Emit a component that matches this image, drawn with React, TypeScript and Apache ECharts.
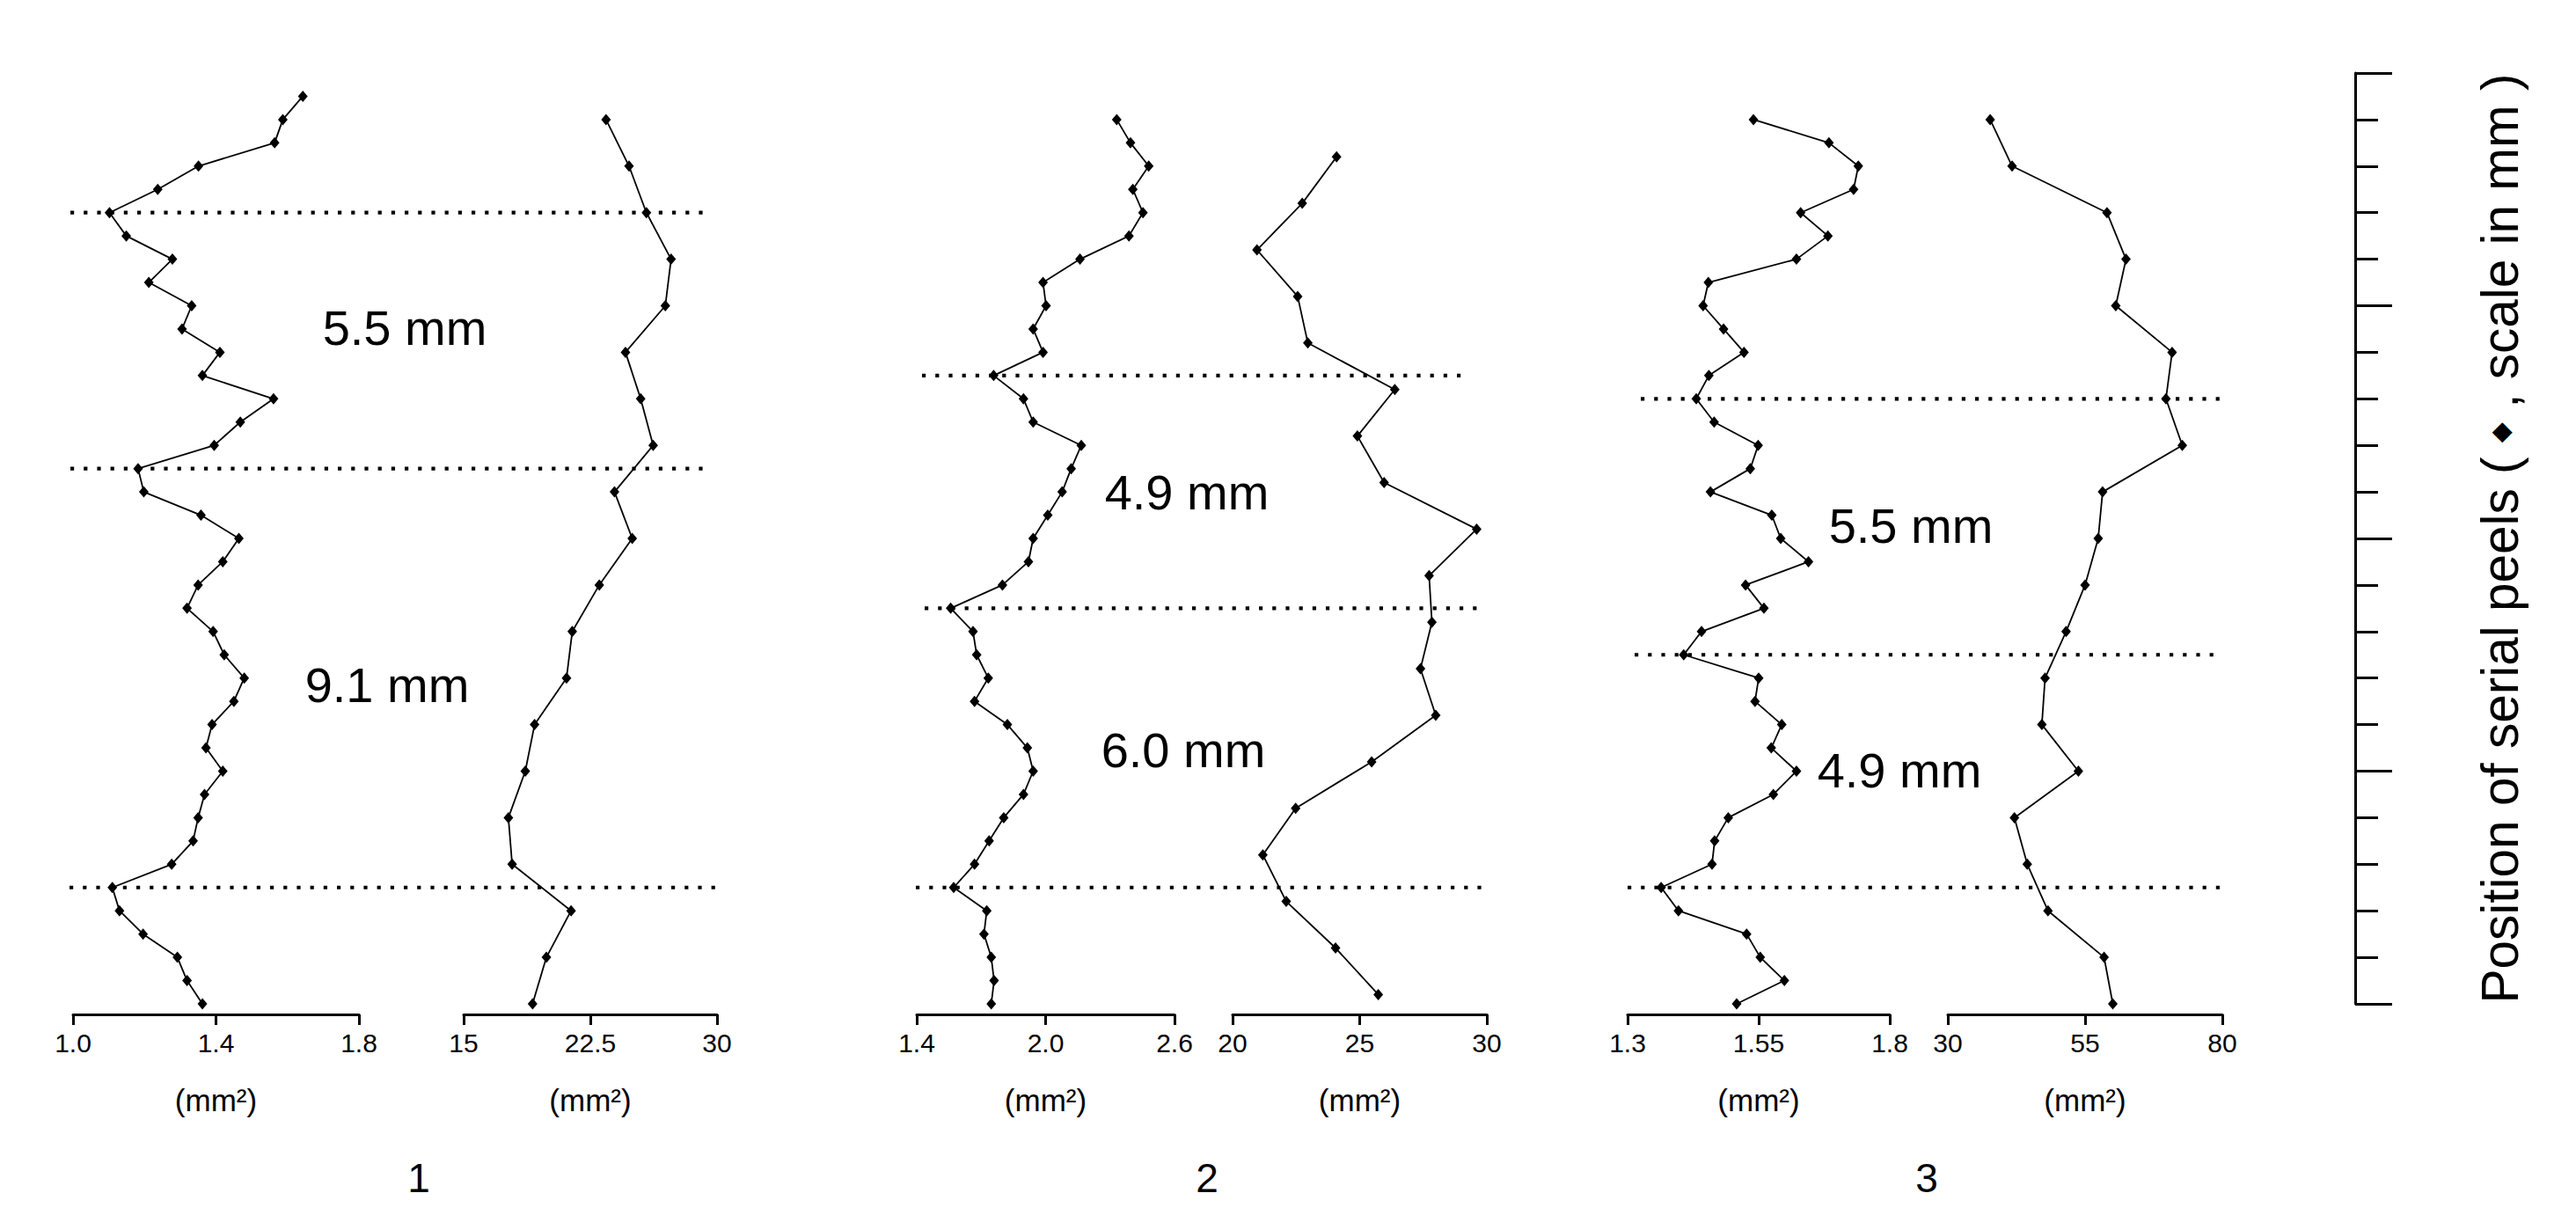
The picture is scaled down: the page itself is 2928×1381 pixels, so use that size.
import React, { useEffect, useRef } from "react";
import * as echarts from "echarts";

// ---------- DATA ----------
// positions of serial peels, in mm above the base
const p1aPos = [19.5, 19, 18.5, 18, 17.5, 17, 16.5, 16, 15.5, 15, 14.5, 14, 13.5, 13, 12.5, 12, 11.5, 11, 10.5, 10, 9.5, 9, 8.5, 8, 7.5, 7, 6.5, 6, 5.5, 5, 4.5, 4, 3.5, 3, 2.5, 2, 1.5, 1, 0.5, 0];
const p1aVal = [1.643, 1.587, 1.564, 1.351, 1.237, 1.102, 1.149, 1.278, 1.212, 1.332, 1.305, 1.411, 1.362, 1.561, 1.468, 1.395, 1.182, 1.198, 1.358, 1.464, 1.419, 1.35, 1.319, 1.392, 1.423, 1.479, 1.45, 1.389, 1.372, 1.419, 1.368, 1.35, 1.336, 1.276, 1.11, 1.13, 1.196, 1.292, 1.319, 1.362];

const p1bPos = [19, 18, 17, 16, 15, 14, 13, 12, 11, 10, 9, 8, 7, 6, 5, 4, 3, 2, 1, 0];
const p1bVal = [23.43, 24.79, 25.82, 27.28, 26.94, 24.58, 25.48, 26.22, 23.93, 24.98, 23.03, 21.43, 21.09, 19.2, 18.65, 17.65, 17.87, 21.36, 19.9, 19.08];

const p2aPos = [19, 18.5, 18, 17.5, 17, 16.5, 16, 15.5, 15, 14.5, 14, 13.5, 13, 12.5, 12, 11.5, 11, 10.5, 10, 9.5, 9, 8.5, 8, 7.5, 7, 6.5, 6, 5.5, 5, 4.5, 4, 3.5, 3, 2.5, 2, 1.5, 1, 0.5, 0];
const p2aVal = [2.331, 2.395, 2.48, 2.406, 2.453, 2.388, 2.16, 1.988, 2.002, 1.942, 1.988, 1.758, 1.897, 1.942, 2.166, 2.119, 2.077, 2.01, 1.942, 1.92, 1.799, 1.558, 1.662, 1.679, 1.733, 1.669, 1.822, 1.915, 1.942, 1.897, 1.805, 1.737, 1.669, 1.572, 1.726, 1.713, 1.747, 1.76, 1.747];

const p2bPos = [18.2, 17.2, 16.2, 15.2, 14.2, 13.2, 12.2, 11.2, 10.2, 9.2, 8.2, 7.2, 6.2, 5.2, 4.2, 3.2, 2.2, 1.2, 0.2];
const p2bVal = [24.09, 22.74, 20.96, 22.56, 22.96, 26.38, 24.91, 25.96, 29.6, 27.73, 27.84, 27.39, 27.99, 25.47, 22.48, 21.19, 22.11, 24.05, 25.73];

const p3aPos = [19, 18.5, 18, 17.5, 17, 16.5, 16, 15.5, 15, 14.5, 14, 13.5, 13, 12.5, 12, 11.5, 11, 10.5, 10, 9.5, 9, 8.5, 8, 7.5, 7, 6.5, 6, 5.5, 5, 4.5, 4, 3.5, 3, 2.5, 2, 1.5, 1, 0.5, 0];
const p3aVal = [1.54, 1.684, 1.74, 1.731, 1.63, 1.682, 1.622, 1.454, 1.444, 1.483, 1.522, 1.455, 1.431, 1.465, 1.549, 1.534, 1.458, 1.575, 1.592, 1.645, 1.525, 1.56, 1.441, 1.407, 1.55, 1.543, 1.594, 1.574, 1.622, 1.578, 1.492, 1.466, 1.461, 1.364, 1.397, 1.527, 1.553, 1.599, 1.508];

const p3bPos = [19, 18, 17, 16, 15, 14, 13, 12, 11, 10, 9, 8, 7, 6, 5, 4, 3, 2, 1, 0];
const p3bVal = [37.71, 41.7, 58.99, 62.45, 60.59, 70.85, 69.73, 72.71, 58.19, 57.39, 55.0, 51.54, 47.71, 47.13, 53.78, 42.13, 44.47, 48.24, 58.46, 60.05];

// x-axis ticks and their labels
const p1aTicks = [1.0, 1.4, 1.8];
const p1aTickLabels = ["1.0", "1.4", "1.8"];
const p1bTicks = [15, 22.5, 30];
const p1bTickLabels = ["15", "22.5", "30"];
const p2aTicks = [1.4, 2.0, 2.6];
const p2aTickLabels = ["1.4", "2.0", "2.6"];
const p2bTicks = [20, 25, 30];
const p2bTickLabels = ["20", "25", "30"];
const p3aTicks = [1.3, 1.55, 1.8];
const p3aTickLabels = ["1.3", "1.55", "1.8"];
const p3bTicks = [30, 55, 80];
const p3bTickLabels = ["30", "55", "80"];

// boundary positions (mm) and the thickness between them
const g1Bounds = [17, 11.5, 2.5];
const g2Bounds = [13.5, 8.5, 2.5];
const g3Bounds = [13, 7.5, 2.5];
const g1Thick = ["5.5 mm", "9.1 mm"];
const g2Thick = ["4.9 mm", "6.0 mm"];
const g3Thick = ["5.5 mm", "4.9 mm"];
const groupNames = ["1", "2", "3"];
const unitLabel = "(mm²)";
const scaleName = "Position of serial peels ( {d|◆} , scale in mm )";

// ---------- LAYOUT ----------
const W = 2928;
const H = 1381;
const FONT = "'Liberation Sans', Arial, Helvetica, sans-serif";
const GRID_TOP = 83;
const GRID_H = 1058;

const panels = [
  { pos: p1aPos, val: p1aVal, ticks: p1aTicks, labels: p1aTickLabels, left: 83, width: 325 },
  { pos: p1bPos, val: p1bVal, ticks: p1bTicks, labels: p1bTickLabels, left: 527, width: 288 },
  { pos: p2aPos, val: p2aVal, ticks: p2aTicks, labels: p2aTickLabels, left: 1042, width: 293 },
  { pos: p2bPos, val: p2bVal, ticks: p2bTicks, labels: p2bTickLabels, left: 1401, width: 289 },
  { pos: p3aPos, val: p3aVal, ticks: p3aTicks, labels: p3aTickLabels, left: 1850, width: 298 },
  { pos: p3bPos, val: p3bVal, ticks: p3bTicks, labels: p3bTickLabels, left: 2214, width: 312 },
];

// horizontal extents (px) of dotted boundary lines per group
const boundExtents = [
  [[80, 805], [80, 805], [79, 816]],
  [[1048, 1664], [1051, 1682], [1041, 1688]],
  [[1865, 2528], [1858, 2520], [1850, 2528]],
];
const groupBounds = [g1Bounds, g2Bounds, g3Bounds];
const thickLabels = [g1Thick, g2Thick, g3Thick];
const thickPos = [
  [[460, 372], [440, 778]],
  [[1349, 559], [1345, 852]],
  [[2172, 597], [2159, 875]],
];
const groupLabelX = [476, 1372, 2190];
const groupLabelY = 1339;

export default function App() {
  const ref = useRef<HTMLDivElement>(null);

  useEffect(() => {
    document.body.style.margin = "0";
    const chart = echarts.init(ref.current as HTMLDivElement, null, { renderer: "svg" });

    const grids: any[] = [];
    const xAxes: any[] = [];
    const yAxes: any[] = [];
    const series: any[] = [];

    panels.forEach((p, i) => {
      grids.push({ left: p.left, width: p.width, top: GRID_TOP, height: GRID_H });
      xAxes.push({
        gridIndex: i,
        type: "value",
        min: p.ticks[0],
        max: p.ticks[p.ticks.length - 1],
        offset: 12,
        axisLine: { show: true, onZero: false, lineStyle: { color: "#000", width: 3 } },
        axisTick: { show: true, customValues: p.ticks, length: 12, lineStyle: { color: "#000", width: 3 } },
        axisLabel: {
          customValues: p.ticks,
          showMinLabel: true,
          showMaxLabel: true,
          hideOverlap: false,
          formatter: (v: number) => {
            const k = p.ticks.findIndex((t) => Math.abs(t - v) < 1e-6);
            return k >= 0 ? p.labels[k] : "";
          },
          fontSize: 30,
          color: "#000",
          fontFamily: FONT,
          margin: 17,
        },
        splitLine: { show: false },
        name: unitLabel,
        nameLocation: "middle",
        nameGap: 80,
        nameTextStyle: { fontSize: 35, color: "#000", fontFamily: FONT },
      });
      yAxes.push({ gridIndex: i, type: "value", min: 0, max: 20, show: false });
      series.push({
        type: "line",
        xAxisIndex: i,
        yAxisIndex: i,
        data: p.pos.map((y, j) => [p.val[j], y]),
        symbol: "diamond",
        symbolSize: [11, 13],
        showAllSymbol: true,
        clip: false,
        silent: true,
        z: 5,
        lineStyle: { color: "#000", width: 1.8 },
        itemStyle: { color: "#000" },
      });
    });

    // overlay grid for dotted boundary lines (x in px, y in mm)
    const ov = panels.length;
    grids.push({ left: 0, width: W, top: GRID_TOP, height: GRID_H });
    xAxes.push({ gridIndex: ov, type: "value", min: 0, max: W, show: false });
    yAxes.push({ gridIndex: ov, type: "value", min: 0, max: 20, show: false });
    groupBounds.forEach((bounds, g) => {
      bounds.forEach((b, k) => {
        const [x0, x1] = boundExtents[g][k];
        series.push({
          type: "line",
          xAxisIndex: ov,
          yAxisIndex: ov,
          data: [[x0, b], [x1, b]],
          symbol: "none",
          silent: true,
          clip: false,
          z: 2,
          lineStyle: { color: "#000", width: 4.2, type: [4.2, 11], cap: "butt" },
        });
      });
    });

    // scale bar on the right
    const sc = ov + 1;
    grids.push({ left: 2600, width: 77, top: GRID_TOP, height: GRID_H });
    xAxes.push({ gridIndex: sc, type: "value", min: 0, max: 1, show: false });
    yAxes.push({
      gridIndex: sc,
      type: "value",
      position: "right",
      min: 0,
      max: 20,
      interval: 5,
      axisLine: { show: true, onZero: false, lineStyle: { color: "#000", width: 3 } },
      axisTick: { show: true, length: 42, lineStyle: { color: "#000", width: 3 } },
      minorTick: { show: true, splitNumber: 5, length: 26, lineStyle: { color: "#000", width: 3 } },
      axisLabel: { show: false },
      splitLine: { show: false },
      minorSplitLine: { show: false },
      name: scaleName,
      nameLocation: "middle",
      nameRotate: 90,
      nameGap: 135,
      nameTextStyle: {
        fontSize: 58.5,
        color: "#000",
        fontFamily: FONT,
        rich: { d: { fontSize: 30, fontFamily: "'DejaVu Sans', sans-serif", color: "#000" } },
      },
    });

    const graphic: any[] = [];
    thickLabels.forEach((labs, g) => {
      labs.forEach((t, k) => {
        graphic.push({
          type: "text",
          x: thickPos[g][k][0],
          y: thickPos[g][k][1],
          style: { text: t, fontSize: 56, fontFamily: FONT, fill: "#000", align: "center", verticalAlign: "middle" },
        });
      });
    });
    groupNames.forEach((n, g) => {
      graphic.push({
        type: "text",
        x: groupLabelX[g],
        y: groupLabelY,
        style: { text: n, fontSize: 46, fontFamily: FONT, fill: "#000", align: "center", verticalAlign: "middle" },
      });
    });

    chart.setOption({
      animation: false,
      backgroundColor: "#fff",
      grid: grids,
      xAxis: xAxes,
      yAxis: yAxes,
      series,
      graphic,
    });

    return () => chart.dispose();
  }, []);

  return <div ref={ref} style={{ width: W, height: H }} />;
}
